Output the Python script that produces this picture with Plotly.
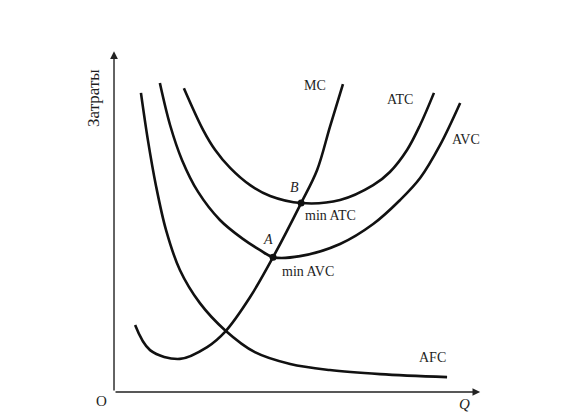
import plotly.graph_objects as go

# Data (Q = output, C = cost, arbitrary units 0-100)
afc_q = [7.4, 9.3, 11.5, 14.3, 18.1, 23.6, 30.5, 38.7, 48.4, 59.3, 73.1, 91.5]
afc_c = [88.5, 74.6, 61.2, 47.9, 36.1, 26.3, 18.3, 11.8, 8.3, 6.5, 5.3, 4.4]

mc_q = [5.8, 9.9, 18.1, 25.6, 30.5, 37.4, 43.7, 51.4, 55.8, 59.3, 62.9]
mc_c = [19.8, 12.4, 9.8, 13.3, 17.8, 28.1, 39.9, 55.9, 65.7, 78.4, 91.1]

atc_q = [19.2, 24.5, 27.8, 31.9, 37.4, 42.9, 51.4, 62.1, 71.2, 75.8, 80.5, 84.1, 87.9]
atc_c = [89.9, 77.5, 71.6, 66.3, 61.2, 58.0, 55.9, 56.8, 61.2, 65.1, 71.6, 79.0, 88.5]

avc_q = [12.6, 15.4, 18.7, 23.1, 29.1, 35.4, 39.8, 43.7, 51.1, 62.1, 71.2, 78.6, 84.1, 89.6, 95.1]
avc_c = [91.4, 79.0, 68.6, 59.2, 50.9, 45.3, 42.2, 39.9, 40.2, 43.8, 49.7, 56.8, 63.3, 73.1, 85.5]

point_names = ["A", "B"]
point_q = [43.7, 51.4]
point_c = [39.9, 55.9]

curve_names = ["MC", "ATC", "AVC", "AFC"]
min_labels = ["min AVC", "min ATC"]
x_title = "Q"
y_title = "Затраты"
origin_label = "O"

FONT = "Liberation Serif, Times New Roman, serif"
TXT = "#1e1e1e"

fig = go.Figure()
for q, c in [(afc_q, afc_c), (mc_q, mc_c), (atc_q, atc_c), (avc_q, avc_c)]:
    fig.add_trace(go.Scatter(x=q, y=c, mode="lines",
                             line=dict(color="#111111", width=2.6, shape="spline", smoothing=1.0),
                             hoverinfo="skip", showlegend=False))
fig.add_trace(go.Scatter(x=point_q, y=point_c, mode="markers",
                         marker=dict(color="#111111", size=7),
                         hoverinfo="skip", showlegend=False))

ann = []
# axes with arrows
ann.append(dict(x=100.6, y=0, ax=0, ay=0, xref="x", yref="y", axref="x", ayref="y",
                showarrow=True, arrowhead=2, arrowsize=1.1, arrowwidth=1.4, arrowcolor="#222222", text=""))
ann.append(dict(x=0, y=100.8, ax=0, ay=0, xref="x", yref="y", axref="x", ayref="y",
                showarrow=True, arrowhead=2, arrowsize=1.1, arrowwidth=1.4, arrowcolor="#222222", text=""))

def label(text, x, y, size=14, italic=False, angle=0):
    t = f"<i>{text}</i>" if italic else text
    ann.append(dict(x=x, y=y, xref="x", yref="y", text=t, showarrow=False, textangle=angle,
                    font=dict(family=FONT, size=size, color=TXT)))

label(curve_names[0], 55.2, 90.8)
label(curve_names[1], 78.6, 86.4)
label(curve_names[2], 96.7, 74.6)
label(curve_names[3], 87.4, 10.1)
label(point_names[1], 49.5, 60.4, italic=True)
label(point_names[0], 42.3, 45.0, italic=True)
label(min_labels[1], 59.6, 52.1)
label(min_labels[0], 53.3, 35.8)
label(origin_label, -3.3, -2.7, size=15)
label(x_title, 96.2, -3.6, size=15, italic=True)
label(y_title, -5.5, 87.0, size=17, angle=-90)

fig.update_layout(
    width=578, height=415,
    margin=dict(l=0, r=0, t=0, b=0),
    paper_bgcolor="white", plot_bgcolor="white",
    xaxis=dict(range=[-31.32, 127.47], visible=False, fixedrange=True),
    yaxis=dict(range=[-6.80, 115.98], visible=False, fixedrange=True),
    annotations=ann,
    showlegend=False,
)

fig.write_html("out.html", config={"displayModeBar": False},
               post_script="document.body.style.margin='0';")
